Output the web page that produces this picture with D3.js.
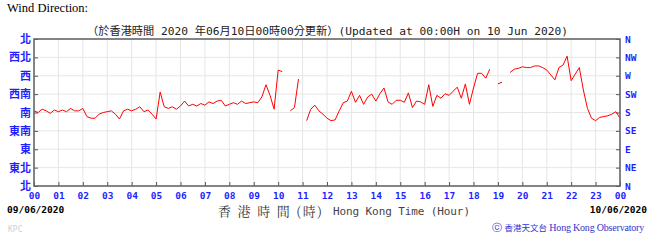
<!DOCTYPE html>
<html lang="zh-Hant">
<head>
<meta charset="UTF-8">
<title>Wind Direction</title>
<script src="https://cdn.jsdelivr.net/npm/d3@7"></script>
<style>
    body { margin: 0; background: #fff; }
    svg { display: block; }
</style>
</head>
<body>
<svg id="chart" width="656" height="240"></svg>
<script>
// hour labels along the bottom, 00 to next day 00
const hourLabels = ["00","01","02","03","04","05","06","07","08","09","10","11",
                    "12","13","14","15","16","17","18","19","20","21","22","23","00"];
// compass points, from 0 deg (bottom) to 360 deg (top)
const dirTicks = [0, 45, 90, 135, 180, 225, 270, 315, 360];
const dirLabelsZh = ["北","東北","東","東南","南","西南","西","西北","北"];
const dirLabelsEn = ["N","NE","E","SE","S","SW","W","NW","N"];

// wind direction in degrees, one reading every 10 minutes from 00:00 (null = no data)
const stepMinutes = 10;
const windDir = [
    184, 180, 188, 184, 178, 186,   // 00
    182, 186, 182, 190, 184, 184,   // 01
    190, 170, 166, 166, 176, 180,   // 02
    182, 184, 176, 164, 184, 188,   // 03
    184, 188, 194, 182, 186, 176,   // 04
    164, 230, 194, 190, 194, 188,   // 05
    196, 208, 196, 200, 196, 202,   // 06
    198, 206, 202, 208, 210, 196,   // 07
    200, 204, 200, 208, 202, 204,   // 08
    206, 204, 218, 248, 222, 188,   // 09
    284, 280, null, 184, 192, 262,  // 10
    null, 160, 188, 198, 184, 176,  // 11
    166, 160, 162, 184, 204, 208,   // 12
    232, 205, 222, 200, 218, 225,   // 13
    208, 226, 240, 206, 200, 210,   // 14
    210, 205, 228, 192, 208, 206,   // 15
    200, 248, 195, 222, 215, 226,   // 16
    222, 232, 242, 215, 250, 200,   // 17
    240, 276, 276, 264, 286, null,  // 18
    250, 254, null, 278, 286, 288,  // 19
    292, 290, 290, 294, 294, 290,   // 20
    284, 272, 260, 290, 296, 318,   // 21
    258, 274, 290, 235, 190, 166,   // 22
    160, 168, 170, 172, 176, 182,   // 23
    166                             // 00
];

const svg = d3.select("#chart");
const plotL = 34, plotR = 620, plotT = 39, plotB = 186;

const x = d3.scaleLinear().domain([0, 24]).range([plotL, plotR]);
const y = d3.scaleLinear().domain([0, 360]).range([plotB, plotT]);

const blue = "#1f1fff";
const mono = "'DejaVu Sans Mono', 'Liberation Mono', monospace";
const cjk = "'Noto Sans CJK TC', 'Noto Sans CJK SC', sans-serif";

// header texts
svg.append("text")
    .attr("x", 7).attr("y", 12)
    .attr("font-family", "'Liberation Serif', 'DejaVu Serif', serif")
    .attr("font-size", 12.5)
    .text("Wind Direction:");

svg.append("text")
    .attr("x", 87).attr("y", 35)
    .attr("font-family", mono + ", " + cjk)
    .attr("font-size", 11)
    .attr("fill", "#222")
    .attr("textLength", 481)
    .attr("lengthAdjust", "spacingAndGlyphs")
    .text("（於香港時間 2020 年06月10日00時00分更新）(Updated at 00:00H on 10 Jun 2020)");

// gridlines
const grid = svg.append("g").attr("stroke", "#e6e6e6").attr("stroke-width", 1);
grid.selectAll("line.v")
    .data(d3.range(1, 24))
    .join("line")
    .attr("class", "v")
    .attr("x1", d => x(d)).attr("x2", d => x(d))
    .attr("y1", plotT).attr("y2", plotB);
grid.selectAll("line.h")
    .data(dirTicks.slice(1, -1))
    .join("line")
    .attr("class", "h")
    .attr("x1", plotL).attr("x2", plotR)
    .attr("y1", d => y(d)).attr("y2", d => y(d));

// wind direction trace
const line = d3.line()
    .defined(d => d != null)
    .x((d, i) => x(i * stepMinutes / 60))
    .y(d => y(d));

svg.append("path")
    .datum(windDir)
    .attr("fill", "none")
    .attr("stroke", "#ff0000")
    .attr("stroke-width", 1)
    .attr("stroke-linejoin", "round")
    .attr("d", line);

// axes (ticks point inwards)
const yLeft = svg.append("g")
    .attr("transform", `translate(${plotL},0)`)
    .call(d3.axisLeft(y).tickValues(dirTicks).tickSize(-4).tickPadding(3)
        .tickFormat((d, i) => dirLabelsZh[i]));
yLeft.selectAll("text")
    .attr("font-family", cjk).attr("font-size", 11).attr("font-weight", "bold")
    .attr("fill", blue);

const yRight = svg.append("g")
    .attr("transform", `translate(${plotR},0)`)
    .call(d3.axisRight(y).tickValues(dirTicks).tickSize(-4).tickPadding(5)
        .tickFormat((d, i) => dirLabelsEn[i]));
yRight.selectAll("text")
    .attr("font-family", mono).attr("font-size", 9.5).attr("font-weight", "bold")
    .attr("fill", blue);

const xAxis = svg.append("g")
    .attr("transform", `translate(0,${plotB})`)
    .call(d3.axisBottom(x).tickValues(d3.range(0, 25)).tickSize(-4).tickPadding(6)
        .tickFormat(d => hourLabels[d]));
xAxis.selectAll("text")
    .attr("font-family", mono).attr("font-size", 9.5).attr("font-weight", "bold")
    .attr("fill", blue);

[yLeft, yRight, xAxis].forEach(a => {
    a.select(".domain").remove();
    a.selectAll(".tick line").attr("stroke", "#555");
});

// frame
svg.append("rect")
    .attr("x", plotL).attr("y", plotT)
    .attr("width", plotR - plotL).attr("height", plotB - plotT)
    .attr("fill", "none")
    .attr("stroke", "#666")
    .attr("stroke-width", 1.6);

// footer texts
svg.append("text")
    .attr("x", 7).attr("y", 213)
    .attr("font-family", mono).attr("font-size", 9.5).attr("font-weight", "bold")
    .text("09/06/2020");

svg.append("text")
    .attr("x", 647).attr("y", 213)
    .attr("text-anchor", "end")
    .attr("font-family", mono).attr("font-size", 9.5).attr("font-weight", "bold")
    .text("10/06/2020");

svg.append("text")
    .attr("x", 218).attr("y", 216)
    .attr("font-family", "'Noto Serif CJK TC', " + cjk)
    .attr("font-size", 13)
    .attr("fill", "#333")
    .attr("textLength", 104)
    .attr("lengthAdjust", "spacing")
    .text("香 港 時 間 (時)");

svg.append("text")
    .attr("x", 333).attr("y", 215)
    .attr("font-family", mono)
    .attr("font-size", 11)
    .attr("fill", "#444")
    .attr("textLength", 137)
    .text("Hong Kong Time (Hour)");

svg.append("text")
    .attr("x", 8).attr("y", 232)
    .attr("font-family", mono).attr("font-size", 8)
    .attr("fill", "#d0d0d0")
    .text("KPC");

const credit = svg.append("text")
    .attr("x", 644).attr("y", 231)
    .attr("text-anchor", "end")
    .attr("font-family", "'Liberation Serif', serif")
    .attr("font-size", 10)
    .attr("fill", "#3333cc");
credit.append("tspan").text("ⓒ ");
credit.append("tspan").attr("font-family", cjk).attr("font-size", 8.5).text("香港天文台");
credit.append("tspan").attr("letter-spacing", -0.2).text(" Hong Kong Observatory");
</script>
</body>
</html>
